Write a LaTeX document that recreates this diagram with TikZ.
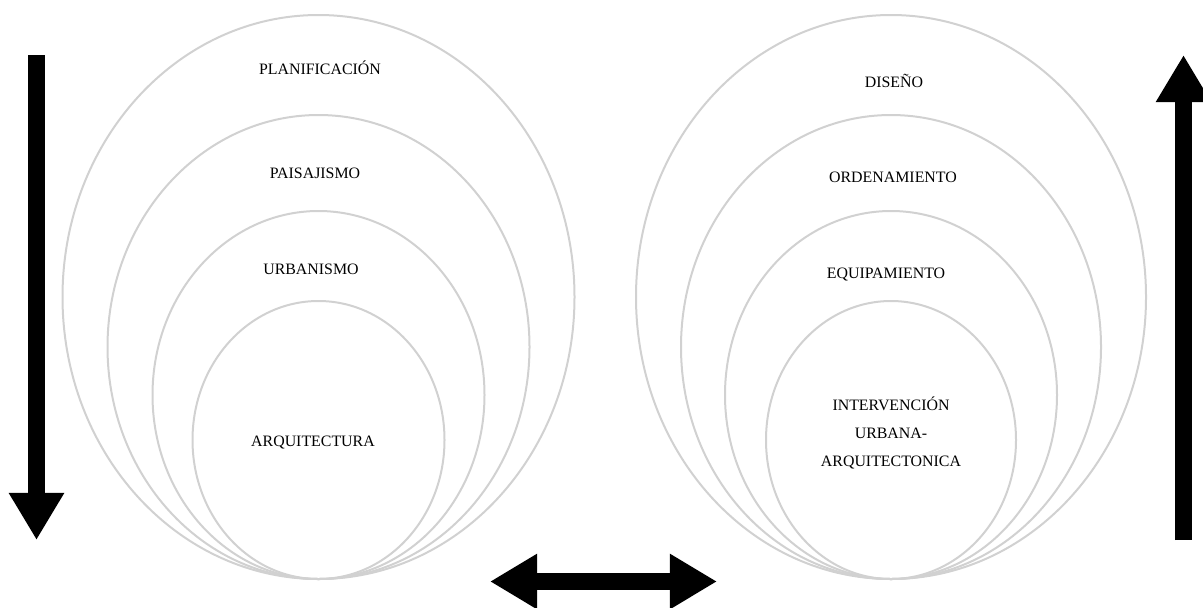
\documentclass[tikz,border=0pt]{standalone}
\usepackage{fontspec}
\setmainfont{Liberation Serif}
\usetikzlibrary{arrows.meta}

\begin{document}
\begin{tikzpicture}[x=0.025cm, y=-0.025cm, >={Triangle[width=1.3cm,length=1.175cm]}]
        \tikzstyle{ring}=[draw=black!18, line width=0.05cm]
        \tikzstyle{word}=[font=\fontsize{11.3}{19.8}\selectfont, inner sep=0pt]
        \tikzstyle{bigarrow}=[->, line width=0.425cm]
        \useasboundingbox (0,0) rectangle (1203,607);

        % left family of circles
        \draw[ring] (318.5,297) ellipse (256 and 282);
        \draw[ring] (318.5,347) ellipse (211 and 232);
        \draw[ring] (318.5,395) ellipse (166 and 184);
        \draw[ring] (318.5,440) ellipse (126 and 139);

        % right family of circles
        \draw[ring] (891,297) ellipse (255 and 282);
        \draw[ring] (891,347) ellipse (210 and 232);
        \draw[ring] (891,395) ellipse (166 and 184);
        \draw[ring] (891,440) ellipse (125 and 139);

        \node[word,anchor=base] (PL) at (320,74)  {PLANIFICACIÓN};
        \node[word,anchor=base] (PA) at (315,178) {PAISAJISMO};
        \node[word,anchor=base] (UR) at (311,274) {URBANISMO};
        \node[word,anchor=base] (AR) at (313,446) {ARQUITECTURA};

        \node[word,anchor=base] (DI) at (894,87)  {DISEÑO};
        \node[word,anchor=base] (OR) at (893,182) {ORDENAMIENTO};
        \node[word,anchor=base] (EQ) at (886,278) {EQUIPAMIENTO};
        \node[word,align=center] (IN) at (891,433) {INTERVENCIÓN\\URBANA-\\ARQUITECTONICA};

        \coordinate (DownA) at (36.5,55);
        \coordinate (DownB) at (36.5,540);
        \coordinate (UpA)   at (1183.5,540);
        \coordinate (UpB)   at (1183.5,55);
        \coordinate (MidA)  at (490,581.5);
        \coordinate (MidB)  at (717,581.5);

        \draw[bigarrow]     (DownA) -- (DownB);
        \draw[bigarrow]     (UpA)   -- (UpB);
        \draw[bigarrow,<->] (MidA)  -- (MidB);
    \end{tikzpicture}
\end{document}
